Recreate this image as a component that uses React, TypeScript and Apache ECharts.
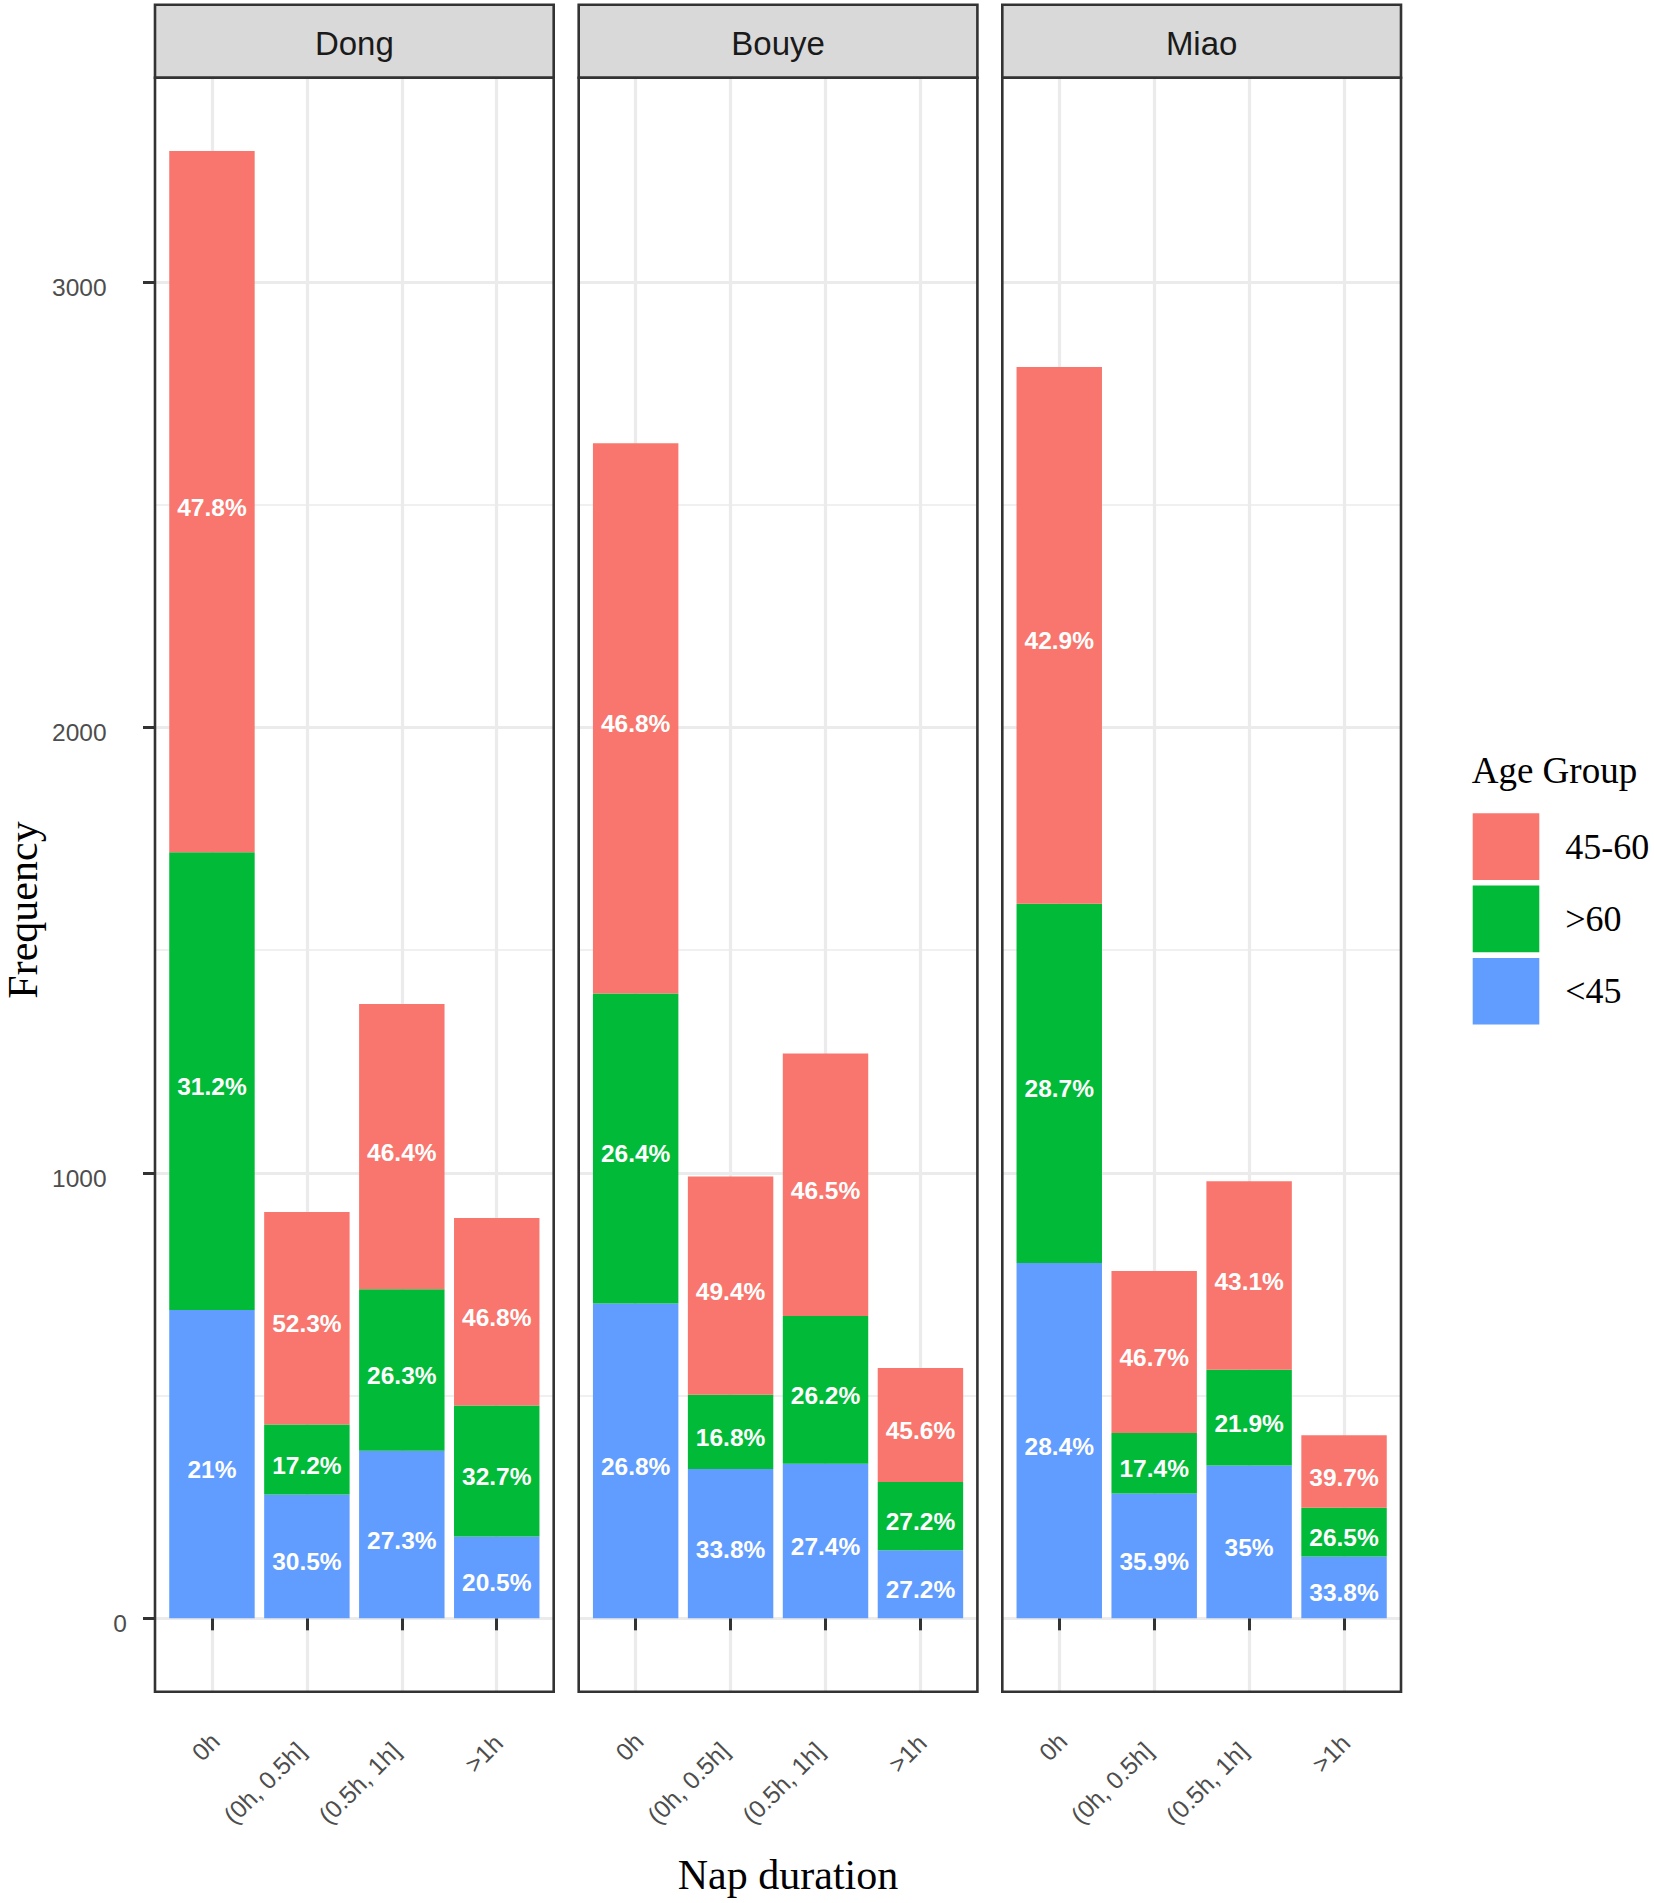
import React, { useEffect, useRef } from "react";
import * as echarts from "echarts";

// ---------- data ----------
const napCategories = ["0h", "(0h, 0.5h]", "(0.5h, 1h]", ">1h"];
const panelNames = ["Dong", "Bouye", "Miao"];
const legendOrder = ["45-60", ">60", "<45"];
const stackOrder = ["<45", ">60", "45-60"];
const ageColors: Record<string, string> = { "45-60": "#F8766D", ">60": "#00BA38", "<45": "#619CFF" };

const dongUnder45 = [692, 278, 376, 184];
const dongOver60 = [1028, 157, 363, 294];
const dong45to60 = [1574, 477, 640, 421];

const bouyeUnder45 = [707, 335, 347, 153];
const bouyeOver60 = [696, 167, 332, 153];
const bouye45to60 = [1235, 490, 589, 256];

const miaoUnder45 = [798, 280, 343, 139];
const miaoOver60 = [806, 136, 215, 109];
const miao45to60 = [1205, 364, 423, 163];

const yTicks = [0, 1000, 2000, 3000];

const panelData: Record<string, number[]>[] = [
  { "<45": dongUnder45, ">60": dongOver60, "45-60": dong45to60 },
  { "<45": bouyeUnder45, ">60": bouyeOver60, "45-60": bouye45to60 },
  { "<45": miaoUnder45, ">60": miaoOver60, "45-60": miao45to60 },
];

// ---------- layout ----------
const W = 1654;
const H = 1903;
const panelLefts = [155, 578.7, 1002.3];
const panelW = 398.7;
const stripTop = 4.7;
const panelTop = 77.7;
const panelBottom = 1691.7;
const sans = "Liberation Sans";
const serif = "Liberation Serif";
const borderColor = "#333333";
const gridColor = "#EBEBEB";
const tickTextColor = "#4D4D4D";
const tickFont = 24.5;

function measure(text: string, size: number, family: string, weight = "normal") {
  try {
    const c = document.createElement("canvas");
    const ctx = c.getContext("2d");
    if (ctx) {
      ctx.font = `${weight} ${size}px "${family}"`;
      return ctx.measureText(text).width;
    }
  } catch (e) {
    /* ignore */
  }
  return text.length * 0.5 * size;
}

function buildOption() {
  const nCat = napCategories.length;
  const catPositions = napCategories.map((_, i) => i + 1);
  const xMin = 1 - 0.6;
  const xMax = nCat + 0.6;
  const unitPx = panelW / (xMax - xMin);
  const innerOffset = (0.5 - xMin) * unitPx;

  const totals = panelData.map((pd) =>
    napCategories.map((_, k) => stackOrder.reduce((s, g) => s + pd[g][k], 0))
  );
  const maxTotal = Math.max(...totals.flat());
  const yMin = -0.05 * maxTotal;
  const yMax = maxTotal * 1.05;

  // y tick labels (justified like the original: hjust ~1.5, slightly lowered)
  const yRich: Record<string, any> = {};
  yTicks.forEach((t, i) => {
    const w = measure(String(t), tickFont, sans);
    yRich["t" + i] = {
      fontSize: tickFont,
      fontFamily: sans,
      color: tickTextColor,
      padding: [11, 0.5 * w, 0, 0],
    };
  });

  // x tick labels (rotated 45°, justified like the original)
  const xRich: Record<string, any> = {};
  napCategories.forEach((c, i) => {
    const w = measure(c, tickFont, sans);
    xRich["c" + i] = {
      fontSize: tickFont,
      fontFamily: sans,
      color: tickTextColor,
      padding: [19.3, 0.171 * w, 0, 0],
    };
  });

  const grid: any[] = [];
  const xAxis: any[] = [];
  const yAxis: any[] = [];
  const series: any[] = [];

  // outer grids: panel gridlines, ticks and tick labels
  panelLefts.forEach((left, i) => {
    grid.push({
      left,
      top: panelTop,
      width: panelW,
      height: panelBottom - panelTop,
      containLabel: false,
      outerBoundsMode: "none",
    });
    xAxis.push({
      type: "value",
      gridIndex: i,
      min: xMin,
      max: xMax,
      axisLine: { show: false },
      axisTick: {
        show: true,
        customValues: catPositions,
        length: 12,
        lineStyle: { color: borderColor, width: 3 },
      },
      axisLabel: {
        show: true,
        customValues: catPositions,
        rotate: 45,
        margin: 35.4,
        formatter: (v: number) => {
          const idx = Math.round(v) - 1;
          return napCategories[idx] !== undefined ? `{c${idx}|${napCategories[idx]}}` : "";
        },
        rich: xRich,
      },
      splitLine: { show: true, lineStyle: { color: gridColor, width: 3.2 } },
    });
    yAxis.push({
      type: "value",
      gridIndex: i,
      min: yMin,
      max: yMax,
      axisLine: { show: false },
      axisTick: {
        show: i === 0,
        customValues: yTicks,
        length: 12,
        lineStyle: { color: borderColor, width: 3 },
      },
      axisLabel: {
        show: i === 0,
        customValues: yTicks,
        margin: 21.2,
        formatter: (v: number) => {
          const idx = yTicks.indexOf(Math.round(v));
          return idx >= 0 ? `{t${idx}|${yTicks[idx]}}` : "";
        },
        rich: yRich,
      },
      splitLine: { show: true, lineStyle: { color: gridColor, width: 3.2 } },
      minorTick: { show: false, splitNumber: 2 },
      minorSplitLine: { show: true, lineStyle: { color: gridColor, width: 1.6 } },
    });
  });

  // inner grids: the stacked bars on a category axis
  panelLefts.forEach((left, i) => {
    const gi = panelLefts.length + i;
    grid.push({
      left: left + innerOffset,
      top: panelTop,
      width: nCat * unitPx,
      height: panelBottom - panelTop,
      containLabel: false,
      outerBoundsMode: "none",
    });
    xAxis.push({
      type: "category",
      gridIndex: gi,
      data: napCategories,
      boundaryGap: true,
      show: false,
    });
    yAxis.push({
      type: "value",
      gridIndex: gi,
      min: yMin,
      max: yMax,
      show: false,
    });
    const pd = panelData[i];
    stackOrder.forEach((g) => {
      series.push({
        type: "bar",
        name: g,
        xAxisIndex: gi,
        yAxisIndex: gi,
        stack: "panel" + i,
        barWidth: "90%",
        silent: true,
        emphasis: { disabled: true },
        itemStyle: { color: ageColors[g] },
        data: pd[g],
        label: {
          show: true,
          position: "inside",
          offset: [0, 5.5],
          color: "#FFFFFF",
          fontWeight: "bold",
          fontSize: tickFont,
          fontFamily: sans,
          formatter: (p: any) => {
            const k = p.dataIndex;
            const pct = (pd[g][k] / totals[i][k]) * 100;
            return `${parseFloat(pct.toFixed(1))}%`;
          },
        },
        z: 2,
      });
    });
  });

  const graphics: any[] = [];
  panelLefts.forEach((left, i) => {
    graphics.push({
      type: "rect",
      z: 100,
      shape: { x: left, y: stripTop, width: panelW, height: panelTop - stripTop },
      style: { fill: "#D9D9D9", stroke: borderColor, lineWidth: 2.6 },
      silent: true,
    });
    graphics.push({
      type: "text",
      z: 101,
      x: left + panelW / 2,
      y: 43.5,
      style: {
        text: panelNames[i],
        align: "center",
        verticalAlign: "middle",
        fontSize: 33,
        fontFamily: sans,
        fill: "#1A1A1A",
      },
      silent: true,
    });
    graphics.push({
      type: "rect",
      z: 100,
      shape: { x: left, y: panelTop, width: panelW, height: panelBottom - panelTop },
      style: { fill: "none", stroke: borderColor, lineWidth: 2.6 },
      silent: true,
    });
  });
  graphics.push({
    type: "text",
    z: 101,
    x: 23,
    y: 910,
    rotation: Math.PI / 2,
    style: {
      text: "Frequency",
      align: "center",
      verticalAlign: "middle",
      fontSize: 42,
      fontFamily: serif,
      fill: "#000000",
    },
    silent: true,
  });
  graphics.push({
    type: "text",
    z: 101,
    x: 788,
    y: 1874.5,
    style: {
      text: "Nap duration",
      align: "center",
      verticalAlign: "middle",
      fontSize: 42,
      fontFamily: serif,
      fill: "#000000",
    },
    silent: true,
  });
  graphics.push({
    type: "text",
    z: 101,
    x: 1471.7,
    y: 770.8,
    style: {
      text: "Age Group",
      align: "left",
      verticalAlign: "middle",
      fontSize: 37,
      fontFamily: serif,
      fill: "#000000",
    },
    silent: true,
  });

  return {
    animation: false,
    backgroundColor: "#FFFFFF",
    grid,
    xAxis,
    yAxis,
    series,
    legend: {
      show: true,
      data: legendOrder,
      orient: "vertical",
      left: 1472.7,
      top: 813.3,
      padding: 0,
      itemWidth: 66.6,
      itemHeight: 66.6,
      itemGap: 5.7,
      icon: "rect",
      selectedMode: false,
      itemStyle: { borderWidth: 0 },
      textStyle: {
        fontSize: 36,
        fontFamily: serif,
        color: "#000000",
        padding: [0, 0, 11, 21],
      },
    },
    graphic: { elements: graphics },
  };
}

export default function App() {
  const ref = useRef<HTMLDivElement>(null);
  useEffect(() => {
    document.body.style.margin = "0";
    if (!ref.current) return;
    const chart = echarts.init(ref.current, null, { renderer: "svg" });
    chart.setOption(buildOption() as any);
    return () => {
      chart.dispose();
    };
  }, []);
  return <div ref={ref} style={{ width: W, height: H }} />;
}
